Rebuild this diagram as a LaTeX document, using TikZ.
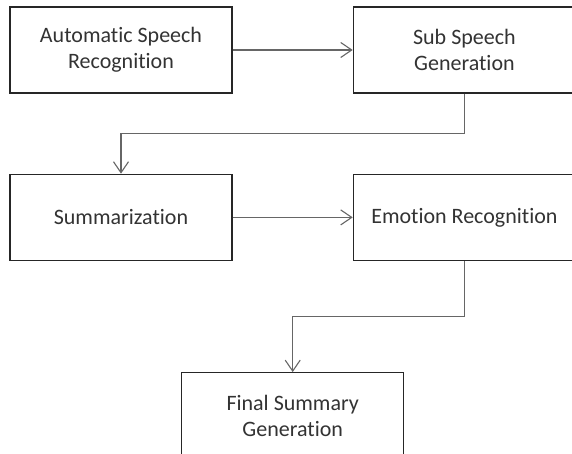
\documentclass[tikz,border=0pt]{standalone}
\usepackage{fontspec}
\setmainfont{Carlito}[Ligatures=NoCommon]
\usetikzlibrary{positioning, calc, arrows.meta}

\begin{document}
\begin{tikzpicture}[x=1pt, y=1pt, node distance=80pt and 120pt,
    stagebox/.style={draw=black!85, line width=1.4pt, minimum width=222pt, minimum height=86pt,
      inner sep=0pt, align=center, text=black!80, font=\fontsize{22}{26}\selectfont},
    flow/.style={draw=black!60, line width=1.1pt, -{Straight Barb[length=11pt, width=15pt]}}]
  \useasboundingbox (0,0) rectangle (572,454);
  \clip (0,0) rectangle (572,454);
  \fill[white] (0,0) rectangle (572,454);

  % processing stages
  \node[stagebox] (asr) at (121,404) {Automatic Speech\\Recognition};
  \node[stagebox, right=of asr] (subgen) {Sub Speech\\Generation};
  \node[stagebox, below=of asr] (summ) {Summarization};
  \node[stagebox, right=of summ] (emo) {Emotion Recognition};
  \coordinate (mid) at ($(summ.south)!0.5!(emo.south)$);
  \node[stagebox, below=111pt of mid] (final) {Final Summary\\Generation};

  % flow between stages
  \draw[flow] (asr) -- (subgen);
  \draw[flow] (subgen.south) |- ($(subgen.south)!0.5!(summ.north)$) -| (summ.north);
  \draw[flow] (summ) -- (emo);
  \draw[flow] (emo.south) |- ($(emo.south)!0.5!(final.north)$) -| (final.north);
\end{tikzpicture}
\end{document}
